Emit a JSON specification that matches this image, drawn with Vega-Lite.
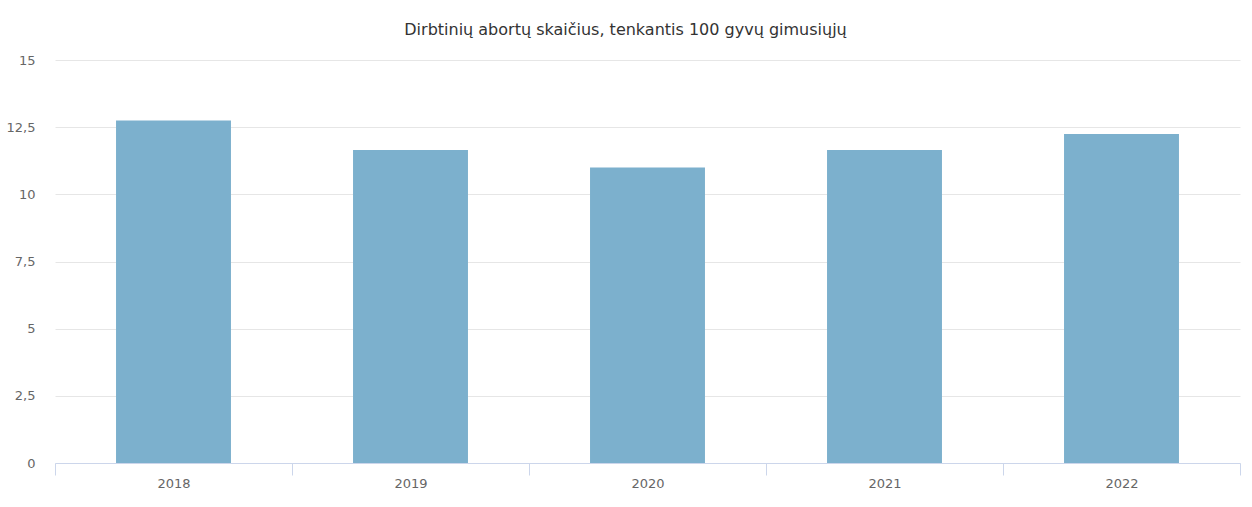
{
  "$schema": "https://vega.github.io/schema/vega-lite/v6.json",
  "autosize": "none",
  "padding": {"left": 55, "top": 60, "right": 12, "bottom": 44},
  "width": 1185,
  "height": 403,
  "background": "#ffffff",
  "title": {
    "text": "Dirbtinių abortų skaičius, tenkantis 100 gyvų gimusiųjų",
    "font": "DejaVu Sans",
    "fontSize": 16,
    "fontWeight": "normal",
    "color": "#333333",
    "anchor": "middle",
    "dx": -22,
    "offset": 16
  },
  "data": {
    "values": [
      {"metai": "2018", "reiksme": 12.75},
      {"metai": "2019", "reiksme": 11.65},
      {"metai": "2020", "reiksme": 11.0},
      {"metai": "2021", "reiksme": 11.65},
      {"metai": "2022", "reiksme": 12.25}
    ]
  },
  "mark": {"type": "bar", "color": "#7cb0cd", "width": {"band": 0.485}},
  "encoding": {
    "x": {
      "field": "metai",
      "type": "nominal",
      "title": null,
      "scale": {"paddingInner": 0, "paddingOuter": 0},
      "axis": {
        "labelAngle": 0,
        "tickBand": "extent",
        "tickSize": 12,
        "labelPadding": 2,
        "domainColor": "#ccd6eb",
        "tickColor": "#ccd6eb",
        "labelColor": "#666666",
        "labelFont": "DejaVu Sans",
        "labelFontSize": 13,
        "grid": false
      }
    },
    "y": {
      "field": "reiksme",
      "type": "quantitative",
      "title": null,
      "scale": {"domain": [0, 15], "nice": false},
      "axis": {
        "values": [0, 2.5, 5, 7.5, 10, 12.5, 15],
        "format": ".1~f",
        "labelExpr": "replace(datum.label, '.', ',')",
        "domain": false,
        "ticks": false,
        "labelPadding": 20,
        "gridColor": "#e6e6e6",
        "labelColor": "#666666",
        "labelFont": "DejaVu Sans",
        "labelFontSize": 13
      }
    }
  },
  "config": {
    "view": {"stroke": null}
  }
}
